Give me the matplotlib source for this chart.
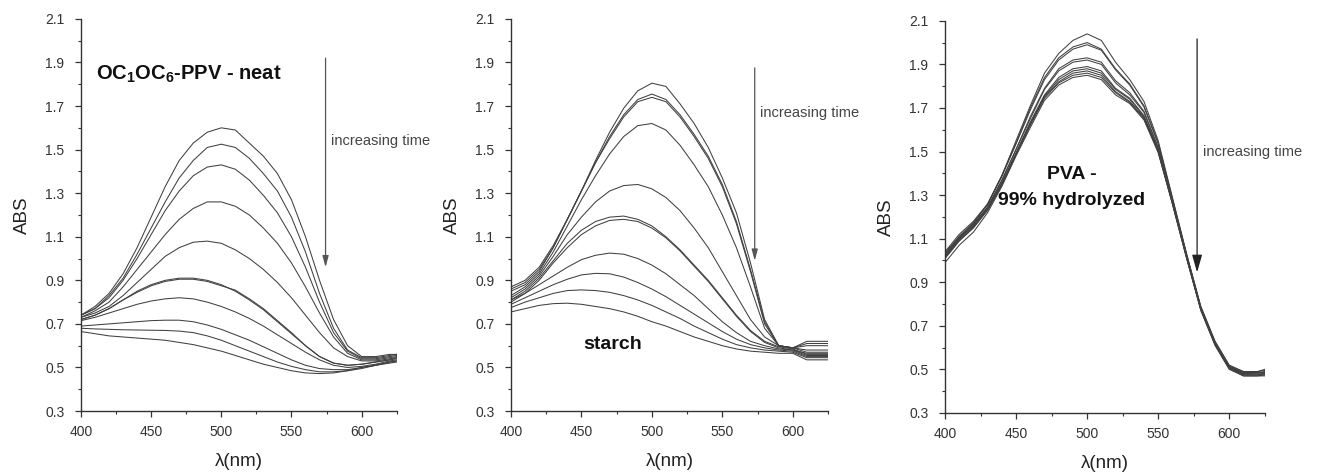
import matplotlib

matplotlib.use("Agg")
import matplotlib.pyplot as plt
from matplotlib.ticker import MultipleLocator

plt.rcParams["font.family"] = ["Liberation Sans", "DejaVu Sans"]
plt.rcParams["mathtext.fontset"] = "custom"
plt.rcParams["mathtext.rm"] = "Liberation Sans:bold"
plt.rcParams["mathtext.bf"] = "Liberation Sans:bold"

# wavelength grid (nm) shared by all spectra
WL = [400, 410, 420, 430, 440, 450, 460, 470, 480, 490, 500, 510,
      520, 530, 540, 550, 560, 570, 580, 590, 600, 610, 620, 625]

# OC1OC6-PPV neat film, absorbance per spectrum (top = earliest)
NEAT_ABS = [
    [0.74, 0.78, 0.84, 0.93, 1.05, 1.19, 1.33, 1.45, 1.53, 1.58, 1.60, 1.59,
     1.53, 1.47, 1.39, 1.27, 1.10, 0.90, 0.72, 0.60, 0.55, 0.55, 0.56, 0.56],
    [0.74, 0.77, 0.83, 0.91, 1.02, 1.14, 1.26, 1.37, 1.45, 1.51, 1.525, 1.51,
     1.46, 1.39, 1.31, 1.19, 1.03, 0.84, 0.68, 0.58, 0.545, 0.545, 0.555, 0.56],
    [0.74, 0.77, 0.82, 0.90, 1.00, 1.11, 1.22, 1.31, 1.38, 1.42, 1.43, 1.41,
     1.36, 1.29, 1.21, 1.10, 0.96, 0.80, 0.66, 0.575, 0.54, 0.54, 0.55, 0.555],
    [0.73, 0.76, 0.80, 0.87, 0.95, 1.03, 1.11, 1.18, 1.23, 1.26, 1.26, 1.24,
     1.20, 1.14, 1.07, 0.98, 0.87, 0.75, 0.64, 0.565, 0.535, 0.535, 0.545, 0.55],
    [0.73, 0.75, 0.78, 0.83, 0.89, 0.95, 1.01, 1.05, 1.075, 1.08, 1.07, 1.04,
     1.00, 0.95, 0.89, 0.82, 0.74, 0.66, 0.59, 0.55, 0.53, 0.53, 0.54, 0.545],
    [0.72, 0.74, 0.77, 0.81, 0.845, 0.875, 0.895, 0.905, 0.905, 0.895, 0.875, 0.855,
     0.815, 0.77, 0.715, 0.66, 0.60, 0.55, 0.52, 0.51, 0.515, 0.525, 0.535, 0.54],
    [0.72, 0.74, 0.77, 0.81, 0.85, 0.88, 0.90, 0.91, 0.91, 0.90, 0.88, 0.85,
     0.81, 0.765, 0.71, 0.655, 0.60, 0.55, 0.52, 0.51, 0.515, 0.525, 0.535, 0.545],
    [0.715, 0.73, 0.75, 0.77, 0.79, 0.805, 0.815, 0.82, 0.815, 0.80, 0.78, 0.755,
     0.725, 0.69, 0.65, 0.61, 0.57, 0.535, 0.51, 0.50, 0.505, 0.515, 0.53, 0.535],
    [0.69, 0.695, 0.70, 0.705, 0.71, 0.715, 0.717, 0.717, 0.71, 0.695, 0.675, 0.65,
     0.625, 0.595, 0.565, 0.535, 0.51, 0.495, 0.49, 0.49, 0.50, 0.51, 0.525, 0.53],
    [0.68, 0.677, 0.675, 0.673, 0.672, 0.671, 0.67, 0.667, 0.66, 0.645, 0.625, 0.60,
     0.575, 0.55, 0.525, 0.505, 0.49, 0.48, 0.48, 0.485, 0.495, 0.51, 0.52, 0.525],
    [0.665, 0.655, 0.645, 0.64, 0.635, 0.63, 0.625, 0.615, 0.605, 0.59, 0.575, 0.555,
     0.535, 0.515, 0.50, 0.485, 0.475, 0.472, 0.475, 0.485, 0.50, 0.51, 0.525, 0.53],
]

# PPV in starch matrix
STARCH_ABS = [
    [0.85, 0.88, 0.94, 1.05, 1.18, 1.31, 1.45, 1.58, 1.69, 1.77, 1.805, 1.79,
     1.71, 1.62, 1.51, 1.37, 1.21, 0.98, 0.72, 0.60, 0.59, 0.62, 0.62, 0.62],
    [0.86, 0.89, 0.95, 1.05, 1.18, 1.31, 1.44, 1.56, 1.66, 1.73, 1.755, 1.73,
     1.66, 1.57, 1.47, 1.34, 1.17, 0.95, 0.71, 0.60, 0.59, 0.61, 0.61, 0.61],
    [0.87, 0.90, 0.96, 1.06, 1.18, 1.31, 1.44, 1.55, 1.65, 1.72, 1.74, 1.72,
     1.65, 1.56, 1.46, 1.33, 1.16, 0.94, 0.70, 0.60, 0.59, 0.60, 0.60, 0.60],
    [0.83, 0.87, 0.93, 1.03, 1.15, 1.27, 1.38, 1.48, 1.56, 1.61, 1.62, 1.59,
     1.52, 1.43, 1.33, 1.20, 1.05, 0.87, 0.68, 0.60, 0.59, 0.58, 0.58, 0.58],
    [0.82, 0.86, 0.92, 1.01, 1.11, 1.19, 1.26, 1.31, 1.335, 1.34, 1.32, 1.28,
     1.22, 1.14, 1.05, 0.94, 0.83, 0.72, 0.64, 0.60, 0.59, 0.57, 0.57, 0.57],
    [0.81, 0.85, 0.91, 0.99, 1.07, 1.13, 1.17, 1.19, 1.195, 1.18, 1.15, 1.10,
     1.04, 0.97, 0.90, 0.82, 0.74, 0.67, 0.62, 0.595, 0.585, 0.56, 0.56, 0.56],
    [0.80, 0.84, 0.90, 0.98, 1.05, 1.11, 1.15, 1.175, 1.18, 1.17, 1.14, 1.095,
     1.035, 0.965, 0.895, 0.815, 0.735, 0.665, 0.615, 0.59, 0.58, 0.555, 0.555, 0.555],
    [0.81, 0.84, 0.88, 0.92, 0.96, 0.995, 1.015, 1.025, 1.02, 1.00, 0.97, 0.93,
     0.88, 0.83, 0.77, 0.71, 0.66, 0.62, 0.60, 0.585, 0.58, 0.565, 0.565, 0.565],
    [0.79, 0.82, 0.85, 0.88, 0.905, 0.925, 0.932, 0.93, 0.915, 0.89, 0.86, 0.825,
     0.785, 0.745, 0.705, 0.665, 0.63, 0.605, 0.59, 0.58, 0.575, 0.55, 0.55, 0.55],
    [0.775, 0.80, 0.82, 0.84, 0.853, 0.856, 0.853, 0.845, 0.83, 0.81, 0.785, 0.755,
     0.725, 0.69, 0.66, 0.63, 0.605, 0.59, 0.58, 0.575, 0.57, 0.545, 0.545, 0.545],
    [0.755, 0.77, 0.785, 0.793, 0.795, 0.79, 0.78, 0.77, 0.755, 0.735, 0.71, 0.69,
     0.665, 0.64, 0.62, 0.60, 0.585, 0.575, 0.57, 0.565, 0.565, 0.535, 0.535, 0.535],
]

# PPV in PVA (99% hydrolyzed)
PVA_ABS = [
    [1.04, 1.12, 1.18, 1.26, 1.39, 1.55, 1.71, 1.86, 1.95, 2.01, 2.04, 2.01,
     1.91, 1.83, 1.73, 1.55, 1.29, 1.03, 0.79, 0.63, 0.52, 0.49, 0.49, 0.50],
    [1.03, 1.11, 1.17, 1.26, 1.39, 1.54, 1.70, 1.84, 1.93, 1.98, 2.00, 1.97,
     1.88, 1.81, 1.71, 1.54, 1.285, 1.03, 0.785, 0.625, 0.515, 0.49, 0.49, 0.495],
    [1.035, 1.11, 1.175, 1.255, 1.385, 1.535, 1.69, 1.83, 1.92, 1.97, 1.99, 1.965,
     1.875, 1.805, 1.705, 1.535, 1.28, 1.025, 0.785, 0.625, 0.515, 0.485, 0.485, 0.49],
    [1.025, 1.105, 1.165, 1.245, 1.37, 1.51, 1.66, 1.79, 1.88, 1.92, 1.93, 1.91,
     1.825, 1.77, 1.685, 1.52, 1.275, 1.02, 0.78, 0.62, 0.51, 0.485, 0.485, 0.485],
    [1.02, 1.10, 1.165, 1.245, 1.365, 1.51, 1.65, 1.785, 1.87, 1.91, 1.92, 1.90,
     1.815, 1.76, 1.68, 1.515, 1.275, 1.02, 0.78, 0.62, 0.51, 0.48, 0.485, 0.485],
    [1.02, 1.10, 1.16, 1.24, 1.355, 1.495, 1.635, 1.76, 1.84, 1.88, 1.89, 1.87,
     1.79, 1.745, 1.665, 1.505, 1.27, 1.02, 0.78, 0.62, 0.51, 0.48, 0.48, 0.48],
    [1.015, 1.095, 1.155, 1.235, 1.355, 1.49, 1.63, 1.755, 1.83, 1.87, 1.88, 1.86,
     1.785, 1.74, 1.66, 1.505, 1.265, 1.015, 0.775, 0.615, 0.505, 0.475, 0.475, 0.48],
    [1.01, 1.09, 1.15, 1.235, 1.35, 1.49, 1.625, 1.75, 1.82, 1.86, 1.87, 1.85,
     1.775, 1.73, 1.655, 1.50, 1.265, 1.015, 0.775, 0.615, 0.505, 0.475, 0.475, 0.475],
    [1.01, 1.09, 1.15, 1.23, 1.345, 1.485, 1.62, 1.745, 1.815, 1.85, 1.86, 1.84,
     1.77, 1.725, 1.65, 1.50, 1.26, 1.01, 0.775, 0.615, 0.505, 0.47, 0.47, 0.475],
    [0.99, 1.07, 1.13, 1.22, 1.34, 1.48, 1.61, 1.735, 1.805, 1.84, 1.85, 1.83,
     1.76, 1.72, 1.645, 1.495, 1.26, 1.01, 0.77, 0.61, 0.50, 0.47, 0.47, 0.47],
]

LABELS = [r"OC$_1$OC$_6$-PPV - neat", "starch", "PVA -\n99% hydrolyzed"]

LINE = "#404040"
AXC = "#333333"

fig = plt.figure(figsize=(13.21, 4.73), dpi=100)
rects = [(0.0613, 0.131, 0.239, 0.829),
         (0.3868, 0.131, 0.240, 0.829),
         (0.7154, 0.127, 0.242, 0.829)]
axes = [fig.add_axes(r) for r in rects]

for ax, spectra in zip(axes, [NEAT_ABS, STARCH_ABS, PVA_ABS]):
    for s in spectra:
        ax.plot(WL, s, color=LINE, linewidth=0.75)
    ax.set_xlim(400, 625)
    ax.set_ylim(0.3, 2.1)
    ax.xaxis.set_major_locator(MultipleLocator(50))
    ax.xaxis.set_minor_locator(MultipleLocator(25))
    ax.yaxis.set_minor_locator(MultipleLocator(0.1))
    ax.set_yticks([0.3 + 0.2 * i for i in range(10)])
    ax.set_yticklabels([f"{0.3 + 0.2 * i:.1f}" for i in range(10)])
    for side in ("top", "right"):
        ax.spines[side].set_visible(False)
    for side in ("left", "bottom"):
        ax.spines[side].set_color(AXC)
        ax.spines[side].set_linewidth(1.0)
    ax.tick_params(which="major", length=4, width=0.9, color=AXC,
                   labelsize=10, labelcolor="#333333")
    ax.tick_params(axis="y", which="major", pad=8)
    ax.tick_params(axis="x", which="major", pad=6)
    ax.tick_params(which="minor", length=2.5, width=0.8, color=AXC)
    ax.set_ylabel("ABS", fontsize=13.5, color="#222222", labelpad=10)
    ax.set_xlabel("λ(nm)", fontsize=13.5, color="#222222", labelpad=10)

# panel annotations
axes[0].text(411, 1.845, LABELS[0], fontsize=14.5, fontweight="bold",
             ha="left", va="center", color="#111111")
axes[1].text(451, 0.605, LABELS[1], fontsize=14, fontweight="bold",
             ha="left", va="center", color="#111111")
axes[2].text(489, 1.335, LABELS[2], fontsize=14, fontweight="bold",
             ha="center", va="center", color="#111111", linespacing=1.65)

arrows = [(574.3, 1.92, 0.96, 1.54, 4), (573, 1.875, 0.99, 1.668, 4),
          (577.4, 2.017, 0.945, 1.50, 9)]
for ax, (x, y0, y1, ty, hw) in zip(axes, arrows):
    ax.annotate("", xy=(x, y1), xytext=(x, y0),
                arrowprops=dict(arrowstyle=f"-|>,head_length={0.35 + hw * 0.08},head_width={0.08 + hw * 0.025}",
                                color="#555555" if hw < 5 else "#222222", lw=0.9,
                                shrinkA=0, shrinkB=0))
    ax.text(x + 4, ty, "increasing time", fontsize=10.5, color="#444444",
            ha="left", va="center", clip_on=False)

fig.savefig("out.png", dpi=100, facecolor="white")
